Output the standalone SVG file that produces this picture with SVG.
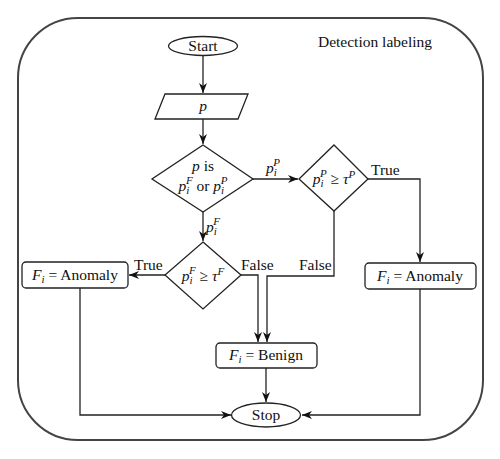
<svg xmlns="http://www.w3.org/2000/svg" width="500" height="459" viewBox="0 0 500 459">
<style>
.sh{fill:#fff;stroke:#222;stroke-width:1.3}
.ln{fill:none;stroke:#222;stroke-width:1.3}
text{font-family:"Liberation Serif","Times New Roman",serif;font-size:15.5px;fill:#111}
.c{text-anchor:middle}
.it{font-style:italic}
.sc{font-size:11px;font-style:italic}
</style>
<defs>
<marker id="ah" markerWidth="10" markerHeight="8" refX="10" refY="4" orient="auto" markerUnits="userSpaceOnUse">
<path d="M0,0 L10,4 L0,8 L3,4 z" fill="#111"/>
</marker>
</defs>
<rect x="18" y="18" width="465" height="422" rx="60" ry="60" fill="#fff" stroke="#444" stroke-width="2"/>
<text x="375" y="47" class="c">Detection labeling</text>

<g id="connectors" class="ln">
<path d="M203,56 V93" marker-end="url(#ah)"/>
<path d="M203,119 V144" marker-end="url(#ah)"/>
<path d="M253,179 H298" marker-end="url(#ah)"/>
<path d="M203,212 V241" marker-end="url(#ah)"/>
<path d="M368,179 H420 V262" marker-end="url(#ah)"/>
<path d="M165,275 H129" marker-end="url(#ah)"/>
<path d="M241,275 H258 V342" marker-end="url(#ah)"/>
<path d="M334,211 V276 H267 V342" marker-end="url(#ah)"/>
<path d="M266,368 V402" marker-end="url(#ah)"/>
<path d="M80,288 V415 H231" marker-end="url(#ah)"/>
<path d="M420,289 V415 H302" marker-end="url(#ah)"/>
</g>
<g id="labels">
<text x="273" y="173" class="c"><tspan class="it">p</tspan><tspan class="sc" dy="3">i</tspan><tspan class="sc" dx="-3.5" dy="-10">P</tspan></text>
<text x="206" y="232"><tspan class="it">p</tspan><tspan class="sc" dy="3">i</tspan><tspan class="sc" dx="-3.5" dy="-10">F</tspan></text>
<text x="371" y="175">True</text>
<text x="134" y="270">True</text>
<text x="241" y="270">False</text>
<text x="299" y="270">False</text>
</g>

<g id="start">
<ellipse cx="203" cy="46" rx="34.5" ry="9.5" class="sh"/>
<text x="203" y="51" class="c">Start</text>
</g>
<g id="input-p">
<polygon points="165,94 248,94 238,119 155,119" class="sh"/>
<text x="203" y="111" class="c it">p</text>
</g>
<g id="decision-type">
<polygon points="203,145 253,179 203,212 152,179" class="sh"/>
<text x="203" y="171" class="c"><tspan class="it">p</tspan> is</text>
<text x="203" y="191" class="c"><tspan class="it">p</tspan><tspan class="sc" dy="3">i</tspan><tspan class="sc" dx="-3.5" dy="-10">F</tspan><tspan dy="7"> or </tspan><tspan class="it">p</tspan><tspan class="sc" dy="3">i</tspan><tspan class="sc" dx="-3.5" dy="-10">P</tspan></text>
</g>
<g id="decision-p">
<polygon points="334,145 368,179 334,211 299,179" class="sh"/>
<text x="334" y="184" class="c"><tspan class="it">p</tspan><tspan class="sc" dy="3">i</tspan><tspan class="sc" dx="-3.5" dy="-10">P</tspan><tspan dy="7"> ≥ </tspan><tspan class="it">τ</tspan><tspan class="sc" dy="-6">P</tspan></text>
</g>
<g id="decision-f">
<polygon points="203,242 241,275 203,309 165,275" class="sh"/>
<text x="203" y="281" class="c"><tspan class="it">p</tspan><tspan class="sc" dy="3">i</tspan><tspan class="sc" dx="-3.5" dy="-10">F</tspan><tspan dy="7"> ≥ </tspan><tspan class="it">τ</tspan><tspan class="sc" dy="-6">F</tspan></text>
</g>
<g id="anomaly-left">
<rect x="22" y="262" width="106" height="26" rx="4" class="sh"/>
<text x="75" y="280" class="c"><tspan class="it">F</tspan><tspan class="sc" dy="3">i</tspan><tspan dy="-3"> = Anomaly</tspan></text>
</g>
<g id="anomaly-right">
<rect x="365" y="263" width="111" height="26" rx="4" class="sh"/>
<text x="420" y="281" class="c"><tspan class="it">F</tspan><tspan class="sc" dy="3">i</tspan><tspan dy="-3"> = Anomaly</tspan></text>
</g>
<g id="benign">
<rect x="216" y="343" width="101" height="25" rx="4" class="sh"/>
<text x="266" y="360" class="c"><tspan class="it">F</tspan><tspan class="sc" dy="3">i</tspan><tspan dy="-3"> = Benign</tspan></text>
</g>
<g id="stop">
<ellipse cx="266" cy="415" rx="34.5" ry="12" class="sh"/>
<text x="266" y="420" class="c">Stop</text>
</g>
</svg>
